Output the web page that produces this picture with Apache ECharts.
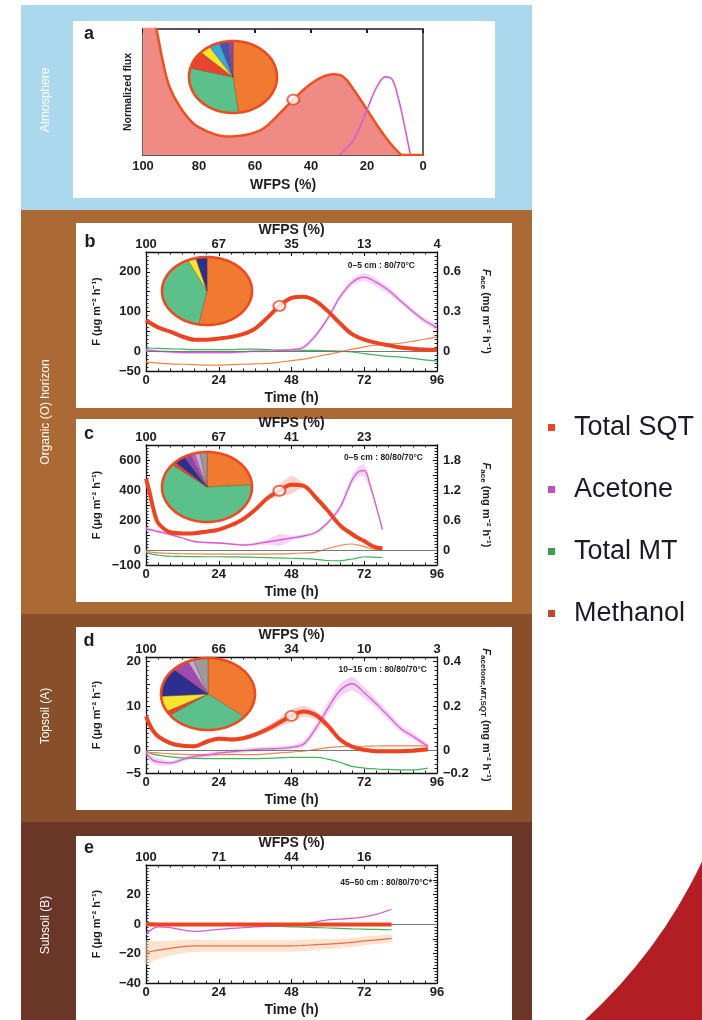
<!DOCTYPE html>
<html><head><meta charset="utf-8">
<script src="https://cdn.jsdelivr.net/npm/echarts@6/dist/echarts.min.js"></script>
<style>html,body{margin:0;padding:0;background:#fff}#c{width:702px;height:1020px}</style>
</head><body><div id="c"></div><script>
// ---------------- DATA ----------------
// Panel a: normalized flux vs WFPS (%)
const wfpsA_sqt = [100, 97.5, 95, 92.8, 90.5, 86.9, 82, 77.3, 70.2, 63, 57, 52.3, 46.3, 41.5, 36.8, 32, 28.4, 24.8, 20, 15.3, 11.7, 8.7, 7.5, 0];
const sqtA      = [1.6, 1.25, 0.98, 0.73, 0.54, 0.385, 0.25, 0.19, 0.146, 0.16, 0.21, 0.305, 0.44, 0.54, 0.61, 0.64, 0.62, 0.52, 0.36, 0.2, 0.093, 0.02, 0, 0];
const wfpsA_ace = [30, 24.8, 20, 16.5, 13.5, 11, 8.7, 6.3, 4.5];
const aceA      = [0, 0.12, 0.36, 0.54, 0.62, 0.6, 0.44, 0.2, 0];
const markerA = 12;
const xTicksA = [100, 80, 60, 40, 20, 0];

// Panel b (0-5 cm)
const tB   = [0,4,8,12,16,20,24,28,32,36,40,44,48,52,56,60,64,68,72,76,80,84,88,92,96];
const sqtB = [78,60,49,37,29,29,32,36,43,57,84,114,134,137,126,101,70,43,29,21,15,9,6,4,3];
const aceB = [0.01,0,-0.005,-0.01,-0.01,-0.01,-0.01,-0.01,-0.005,0,0,0.005,0.01,0.03,0.12,0.25,0.41,0.52,0.56,0.52,0.46,0.38,0.30,0.23,0.18];
const aceB_hw = [0.01,0.01,0.01,0.01,0.01,0.01,0.01,0.01,0.01,0.01,0.01,0.01,0.01,0.015,0.02,0.02,0.02,0.025,0.03,0.03,0.025,0.02,0.02,0.02,0.02];
const mtB  = [8,7,6,5,4,4,4,4,5,5,4,3,3,2,2,1,0,-2,-6,-10,-13,-15,-18,-22,-25];
const meoB = [-27,-30,-32,-33,-34,-35,-35,-34,-33,-32,-31,-28,-24,-20,-14,-8,-2,5,11,15,18,20,25,30,36];
const markerB = 11;
const wfpsLabelsB = ['100','67','35','13','4'];
const leftTicksB = [-50, 0, 100, 200];
const rightTicksB = [0, 0.3, 0.6];

// Panel c (0-5 cm)
const tC   = [0,1,2,3,4,6,8,12,16,20,24,28,32,36,40,44,48,52,56,60,64,68,70,72,74,76,78];
const sqtC = [475,400,310,230,180,140,118,110,112,122,136,165,205,268,345,395,435,428,350,262,165,105,80,60,34,18,11];
const sqtC_hw = [10,10,10,8,8,6,5,5,5,5,5,5,6,8,15,40,60,15,8,6,5,5,5,4,4,3,3];
const aceC = [0.43,0.41,0.40,0.38,0.37,0.34,0.31,0.24,0.17,0.15,0.14,0.12,0.10,0.12,0.16,0.20,0.24,0.28,0.35,0.55,0.85,1.40,1.56,1.59,1.28,0.86,0.41];
const aceC_hw = [0.04,0.03,0.03,0.03,0.03,0.03,0.02,0.02,0.02,0.02,0.02,0.02,0.02,0.03,0.05,0.12,0.05,0.03,0.03,0.04,0.06,0.08,0.1,0.12,0.08,0.05,0.04];
const mtC  = [-18,-22,-27,-31,-35,-39,-41,-43,-44,-45,-45,-46,-47,-49,-51,-53,-55,-57,-62,-70,-72,-60,-52,-45,-47,-49,-50];
const meoC = [-11,-13,-15,-17,-19,-21,-23,-25,-26,-27,-27,-27,-27,-27,-27,-26,-24,-20,-14,10,30,40,32,22,10,3,0];
const markerC = 15;
const wfpsLabelsC = ['100','67','41','23',''];
const leftTicksC = [-100, 0, 200, 400, 600];
const rightTicksC = [0, 0.6, 1.2, 1.8];

// Panel d (10-15 cm)
const tD   = [0,2,4,8,12,16,20,24,28,32,36,40,44,48,52,56,60,64,68,72,76,80,84,88,93];
const sqtD = [7.7,4.8,3.2,1.7,1.1,1.0,2.0,2.7,2.5,2.8,3.6,4.8,6.3,7.8,8.8,8.0,5.6,2.5,0.9,0.2,-0.1,-0.1,-0.1,0.0,0.3];
const sqtD_hw = [0.8,0.6,0.5,0.4,0.4,0.4,0.5,0.5,0.5,0.5,0.6,0.8,1.0,1.5,1.2,1.0,0.8,0.6,0.5,0.5,0.5,0.5,0.5,0.5,0.5];
const aceD = [-0.01,-0.04,-0.05,-0.055,-0.04,-0.025,-0.02,-0.01,-0.005,0,0.005,0.008,0.01,0.015,0.03,0.10,0.19,0.27,0.30,0.26,0.21,0.155,0.10,0.065,0.02];
const aceD_hw = [0.01,0.015,0.015,0.01,0.01,0.01,0.01,0.01,0.01,0.01,0.01,0.01,0.01,0.01,0.015,0.02,0.025,0.03,0.03,0.025,0.02,0.02,0.015,0.015,0.01];
const mtD  = [-0.1,-0.7,-1.0,-1.4,-1.6,-1.7,-1.8,-1.8,-1.8,-1.8,-1.8,-1.7,-1.6,-1.5,-1.5,-1.5,-1.9,-2.6,-3.5,-3.9,-4.1,-4.2,-4.3,-4.3,-3.9];
const meoD = [-0.3,-0.4,-0.5,-0.7,-0.8,-0.9,-0.9,-0.9,-0.9,-0.9,-0.9,-0.7,-0.5,-0.3,-0.1,0.3,0.7,0.9,1.0,1.0,1.05,1.1,1.1,1.1,1.1];
const markerD = 13;
const wfpsLabelsD = ['100','66','34','10','3'];
const leftTicksD = [-5, 0, 10, 20];
const rightTickValsD = [-0.1, 0, 0.2, 0.4];
const rightTickLabelsD = ['−0.2', '0', '0.2', '0.4'];

// Panel e (45-50 cm)
const tE   = [0,2,4,8,12,16,20,24,28,32,36,40,44,48,52,56,60,64,68,72,76,81];
const sqtE = [-0.2,-0.3,-0.3,-0.4,-0.4,-0.4,-0.4,-0.4,-0.4,-0.4,-0.4,-0.4,-0.4,-0.4,-0.4,-0.4,-0.4,-0.4,-0.4,-0.4,-0.4,-0.4];
const aceE = [-7,-3.5,-2,-2.5,-4,-5,-4.5,-3.6,-3,-2.5,-2,-1.6,-1.2,-0.8,-0.3,1.5,2.8,3.3,3.9,4.8,6.5,10];
const mtE  = [1.1,0.6,0.3,0,-0.3,-0.5,-0.6,-0.7,-0.9,-1.1,-1.3,-1.5,-1.7,-1.9,-2.1,-2.4,-2.7,-3,-3.3,-3.5,-3.7,-3.9];
const meoE = [-19.5,-18.5,-17.7,-16.5,-15.3,-14.8,-14.8,-14.8,-14.8,-14.8,-14.8,-14.8,-14.8,-14.8,-14.5,-14,-13.6,-13.2,-12.5,-11.5,-10.8,-9.8];
const meoE_hw = [8,7,6,5,4.5,4.2,4,4,4,4,4,4,4,4,3.8,3.6,3.4,3.2,3,3,2.8,2.5];
const wfpsLabelsE = ['100','71','44','16',''];
const leftTicksE = [-40, -20, 0, 20];

// Pie charts (composition shares, %)
const pieA = [48, 31, 8, 4, 4, 3, 2];
const pieB = [53, 40, 3, 4];
const pieC = [24, 62, 1.5, 4, 2.5, 1.5, 2, 2.5];
const pieD = [36, 29, 2, 7, 13, 6, 2, 5];

// Texts
const bandLabels = ['Atmosphere', 'Organic (O) horizon', 'Topsoil (A)', 'Subsoil (B)'];
const panelLetters = ['a', 'b', 'c', 'd', 'e'];
const annotations = ['0–5 cm : 80/70°C', '0–5 cm : 80/80/70°C', '10–15 cm : 80/80/70°C', '45–50 cm : 80/80/70°C*'];
const legendNames = ['Total SQT', 'Acetone', 'Total MT', 'Methanol'];

// ---------------- STYLE ----------------
const FONT = '"Liberation Sans", Arial, Helvetica, sans-serif';
const INK = '#1e1e1e';
const C_SQT = '#ee4321', C_ACE = '#d35fd3', C_MT = '#3fb35e', C_MEO = '#f0844c';
const PC = {orange:'#f07a30', green:'#5bc08a', red:'#e8452c', yellow:'#f6e52b', cyan:'#3ba7dc', blue:'#4455b0', navy:'#2c2f8e', purple:'#8c48a8', violet:'#a04ab0', magenta:'#c35bc5', lav:'#c6a9d8', grey:'#9b9b9b'};
const pieColA = [PC.orange, PC.green, PC.red, PC.yellow, PC.cyan, PC.blue, PC.purple];
const pieColB = [PC.orange, PC.green, PC.yellow, PC.navy];
const pieColC = [PC.orange, PC.green, PC.red, PC.navy, PC.purple, PC.magenta, PC.lav, PC.grey];
const pieColD = [PC.orange, PC.green, PC.red, PC.yellow, PC.navy, PC.violet, PC.lav, PC.grey];

const tickTS = {fontFamily: FONT, fontSize: 13, fontWeight: 'bold', color: INK};
const nameTS = {fontFamily: FONT, fontSize: 14, fontWeight: 'bold', color: INK};

function fmtNum(v){ const r = Math.round(v*1000)/1000; return r < 0 ? '−' + Math.abs(r) : String(r); }
function only(vals, labels){
  return function(v){
    for (let i = 0; i < vals.length; i++) if (Math.abs(v - vals[i]) < 1e-6) return labels ? labels[i] : fmtNum(vals[i]);
    return '';
  };
}
const pairs = (xs, ys) => xs.map((x, i) => [x, ys[i]]);

const frameLine = {show: true, onZero: false, lineStyle: {color: '#111', width: 1.3}};
const inTick = {show: true, inside: true, length: 4, lineStyle: {color: '#111'}};
const minor = n => ({show: true, splitNumber: n, length: 2.5, lineStyle: {color: '#222'}});

function xBottom(gi){
  return {type:'value', gridIndex:gi, position:'bottom', min:0, max:96, interval:24,
    axisLine: frameLine, axisTick: inTick, minorTick: minor(6), splitLine:{show:false},
    axisLabel: Object.assign({}, tickTS, {margin:3, formatter: v => String(v)}),
    name:'Time (h)', nameLocation:'middle', nameGap:20, nameTextStyle: nameTS};
}
function xTop(gi, labels){
  return {type:'value', gridIndex:gi, position:'top', min:0, max:96, interval:24,
    axisLine: frameLine, axisTick: inTick, minorTick: minor(6), splitLine:{show:false},
    axisLabel: Object.assign({}, tickTS, {margin:1, formatter: v => labels[Math.round(v/24)] || ''}),
    name:'WFPS (%)', nameLocation:'middle', nameGap:15, nameTextStyle: nameTS};
}
function yLeft(gi, min, max, interval, shown, name){
  return {type:'value', gridIndex:gi, position:'left', min, max, interval,
    axisLine: frameLine, axisTick: inTick, minorTick: minor(5), splitLine:{show:false},
    axisLabel: Object.assign({}, tickTS, {margin:5, formatter: only(shown), showMinLabel:true, showMaxLabel:true}),
    name, nameLocation:'middle', nameGap:44, nameTextStyle: Object.assign({}, nameTS, {fontSize:11})};
}
function yRight(gi, min, max, interval, vals, labels, name){
  return {type:'value', gridIndex:gi, position:'right', min, max, interval,
    axisLine: frameLine, axisTick: inTick, minorTick: minor(5), splitLine:{show:false},
    axisLabel: Object.assign({}, tickTS, {show: !!vals, margin:6, formatter: vals ? only(vals, labels) : ''}),
    name: name || '', nameLocation:'middle', nameGap:42, nameRotate:-90,
    nameTextStyle: Object.assign({}, nameTS, {fontSize:11, rich:{i:{fontStyle:'italic', fontWeight:'bold', fontSize:11, fontFamily:FONT, color:INK}, s:{fontSize:8, fontWeight:'bold', fontFamily:FONT, color:INK, padding:[6,0,0,0]}}})};
}

function line(name, xi, yi, xs, ys, color, width, z){
  return {type:'line', name, xAxisIndex:xi, yAxisIndex:yi, data: pairs(xs, ys), smooth:0.35, symbol:'none',
    lineStyle:{color, width}, itemStyle:{color}, z: z || 3, silent:true};
}
// Uncertainty band drawn as one polygon through the library's coordinate transform
function band(xi, yi, xs, ys, hw, color){
  return {type:'custom', xAxisIndex:xi, yAxisIndex:yi, silent:true, z:1, clip:true,
    data: xs.map((x, i) => [x, ys[i] - hw[i], ys[i] + hw[i]]),
    encode: {x: 0, y: [1, 2]},
    renderItem(params, api){
      if (params.dataIndex !== 0) return null;
      const up = xs.map((x, i) => api.coord([x, ys[i] + hw[i]]));
      const lo = xs.map((x, i) => api.coord([x, ys[i] - hw[i]])).reverse();
      return {type:'polygon', shape:{points: up.concat(lo), smooth: 0.2}, style:{fill: color}};
    }};
}
function marker(xi, yi, x, y){
  return {type:'scatter', xAxisIndex:xi, yAxisIndex:yi, data:[[x, y]], symbol:'circle', symbolSize:[12,10],
    itemStyle:{color:'#fff', borderColor:C_SQT, borderWidth:2}, z:8, silent:true};
}
function zeroLine(){
  return {silent:true, symbol:'none', label:{show:false}, lineStyle:{color:'#777', width:1, type:'solid'}, data:[{yAxis:0}]};
}
function pieSeries(id, values, colors, cx, cy, rx, ry){
  const total = values.reduce((a,b)=>a+b, 0);
  return {type:'custom', name:id, coordinateSystem:'none', silent:true, z:6, data: values,
    renderItem(params){
      const i = params.dataIndex;
      let start = 0; for (let k = 0; k < i; k++) start += values[k];
      const a0 = -Math.PI/2 + start/total*2*Math.PI;
      const a1 = a0 + values[i]/total*2*Math.PI;
      const n = Math.max(2, Math.ceil((a1-a0)/0.04));
      const arc = [];
      for (let j = 0; j <= n; j++){ const a = a0 + (a1-a0)*j/n; arc.push([cx + rx*Math.cos(a), cy + ry*Math.sin(a)]); }
      return {type:'group', children:[
        {type:'polygon', shape:{points:[[cx,cy]].concat(arc)}, style:{fill:colors[i], stroke:'rgba(90,50,40,0.55)', lineWidth:0.6}},
        {type:'polyline', shape:{points:arc}, style:{fill:null, stroke:'#ee4a22', lineWidth:2.6}}
      ]};
    }};
}

// ---------------- GRIDS / AXES ----------------
const grids = [
  {left:143, top:29, width:280, height:126},
  {left:146, top:252, width:291, height:119},
  {left:146, top:445, width:291, height:120},
  {left:146, top:657, width:291, height:116},
  {left:146, top:865, width:291, height:118}
];
const frameA = {show:true, onZero:false, lineStyle:{color:'#555', width:1.8}};
const xAxes = [
  {type:'value', gridIndex:0, position:'bottom', min:0, max:100, interval:20, inverse:true, axisLine:frameA,
    axisTick:{show:false}, splitLine:{show:false}, axisLabel:Object.assign({}, tickTS, {margin:5, formatter: only(xTicksA)}),
    name:'WFPS (%)', nameLocation:'middle', nameGap:23, nameTextStyle:nameTS},
  {type:'value', gridIndex:0, position:'top', min:0, max:100, interval:20, inverse:true, axisLine:frameA,
    axisTick:{show:true, inside:true, length:4, lineStyle:{color:'#222', width:2}}, splitLine:{show:false}, axisLabel:{show:false}},
  xBottom(1), xTop(1, wfpsLabelsB),
  xBottom(2), xTop(2, wfpsLabelsC),
  xBottom(3), xTop(3, wfpsLabelsD),
  xBottom(4), xTop(4, wfpsLabelsE)
];
const leftName = 'F (μg m⁻² h⁻¹)';
const yAxes = [
  {type:'value', gridIndex:0, position:'left', min:0, max:1, axisLine:frameA, axisTick:{show:false}, splitLine:{show:false},
    axisLabel:{show:false}, name:'Normalized flux', nameLocation:'middle', nameGap:9, nameTextStyle:Object.assign({}, nameTS, {fontSize:10.5})},
  {type:'value', gridIndex:0, position:'right', min:0, max:1, axisLine:frameA, axisTick:{show:false}, splitLine:{show:false}, axisLabel:{show:false}},
  yLeft(1, -50, 250, 50, leftTicksB, leftName),
  yRight(1, -0.15, 0.75, 0.15, rightTicksB, null, '{i|F}{s|ace} (mg m⁻² h⁻¹)'),
  yLeft(2, -100, 700, 100, leftTicksC, leftName),
  yRight(2, -0.3, 2.1, 0.3, rightTicksC, null, '{i|F}{s|ace} (mg m⁻² h⁻¹)'),
  yLeft(3, -5, 21, 5, leftTicksD, leftName),
  yRight(3, -0.1, 0.42, 0.1, rightTickValsD, rightTickLabelsD, '{i|F}{s|acetone,MT,SQT} (mg m⁻² h⁻¹)'),
  yLeft(4, -40, 40, 10, leftTicksE, leftName),
  yRight(4, -40, 40, 10, null, null, '')
];

// ---------------- SERIES ----------------
const series = [];
// a
series.push(Object.assign(line('Total SQT', 0, 0, wfpsA_sqt, sqtA, '#f0501e', 2.5, 3), {areaStyle:{color:'#f08a84', opacity:1}, smooth:0.4}));
series.push(line('Acetone', 0, 0, wfpsA_ace, aceA, C_ACE, 1.6, 4));
series.push(marker(0, 0, wfpsA_sqt[markerA], sqtA[markerA]));
series.push(pieSeries('pie-a', pieA, pieColA, 233, 77, 44, 36));
// b
series.push(band(2, 3, tB, aceB, aceB_hw, 'rgba(232,160,232,0.45)'));
series.push(Object.assign(line('Total MT', 2, 2, tB, mtB, C_MT, 1.2), {markLine: zeroLine()}));
series.push(line('Methanol', 2, 2, tB, meoB, C_MEO, 1.2));
series.push(line('Acetone', 2, 3, tB, aceB, C_ACE, 1.3));
series.push(line('Total SQT', 2, 2, tB, sqtB, C_SQT, 4, 5));
series.push(marker(2, 2, tB[markerB], sqtB[markerB]));
series.push(pieSeries('pie-b', pieB, pieColB, 207, 291, 45, 34));
// c
series.push(band(4, 4, tC, sqtC, sqtC_hw, 'rgba(240,130,120,0.35)'));
series.push(band(4, 5, tC, aceC, aceC_hw, 'rgba(232,160,232,0.45)'));
series.push(Object.assign(line('Total MT', 4, 4, tC, mtC, C_MT, 1.2), {markLine: zeroLine()}));
series.push(line('Methanol', 4, 4, tC, meoC, C_MEO, 1.2));
series.push(line('Acetone', 4, 5, tC, aceC, C_ACE, 1.3));
series.push(line('Total SQT', 4, 4, tC, sqtC, C_SQT, 4, 5));
series.push(marker(4, 4, tC[markerC], sqtC[markerC]));
series.push(pieSeries('pie-c', pieC, pieColC, 207, 487, 45, 35));
// d
series.push(band(6, 6, tD, sqtD, sqtD_hw, 'rgba(240,130,120,0.35)'));
series.push(band(6, 7, tD, aceD, aceD_hw, 'rgba(232,160,232,0.45)'));
series.push(Object.assign(line('Total MT', 6, 6, tD, mtD, C_MT, 1.2), {markLine: zeroLine()}));
series.push(line('Methanol', 6, 6, tD, meoD, C_MEO, 1.2));
series.push(line('Acetone', 6, 7, tD, aceD, C_ACE, 1.3));
series.push(line('Total SQT', 6, 6, tD, sqtD, C_SQT, 4, 5));
series.push(marker(6, 6, tD[markerD], sqtD[markerD]));
series.push(pieSeries('pie-d', pieD, pieColD, 208, 694, 47, 36));
// e
series.push(band(8, 8, tE, meoE, meoE_hw, 'rgba(252,205,165,0.55)'));
series.push(Object.assign(line('Total MT', 8, 8, tE, mtE, C_MT, 1.2), {markLine: zeroLine()}));
series.push(line('Methanol', 8, 8, tE, meoE, '#ee6a50', 1.2));
series.push(line('Acetone', 8, 8, tE, aceE, C_ACE, 1.3));
series.push(line('Total SQT', 8, 8, tE, sqtE, C_SQT, 4, 5));

// ---------------- DECORATION ----------------
const txt = (x, y, text, opts) => ({type:'text', x, y, z:100, silent:true,
  style: Object.assign({text, fill:INK, fontFamily:FONT, fontSize:11, fontWeight:'bold', align:'center', verticalAlign:'middle', textAlign:'center', textVerticalAlign:'middle'}, opts || {})});
const rect = (x, y, w, h, fill) => ({type:'rect', z:-10, silent:true, shape:{x, y, width:w, height:h}, style:{fill}});

const graphic = [
  rect(21, 5, 511, 205, '#acd8ee'),
  rect(21, 210, 511, 404, '#ab6a35'),
  rect(21, 614, 511, 208, '#884f2a'),
  rect(21, 822, 511, 198, '#6a3628'),
  rect(73, 21, 422, 177, '#ffffff'),
  rect(76, 223, 436, 185, '#ffffff'),
  rect(76, 419, 436, 183, '#ffffff'),
  rect(76, 627, 436, 183, '#ffffff'),
  rect(76, 836, 436, 184, '#ffffff'),
  {type:'sector', z:-10, silent:true, shape:{cx:250, cy:650, r0:499, r:900, startAngle:0, endAngle:Math.PI/2}, style:{fill:'#b21e24'}},
  Object.assign(txt(46, 100, bandLabels[0], {fill:'#ffffff', fontWeight:'normal', fontSize:12}), {rotation:Math.PI/2}),
  Object.assign(txt(46, 412, bandLabels[1], {fill:'#ffffff', fontWeight:'normal', fontSize:12}), {rotation:Math.PI/2}),
  Object.assign(txt(46, 716, bandLabels[2], {fill:'#ffffff', fontWeight:'normal', fontSize:12}), {rotation:Math.PI/2}),
  Object.assign(txt(46, 925, bandLabels[3], {fill:'#ffffff', fontWeight:'normal', fontSize:12}), {rotation:Math.PI/2}),
  txt(89, 34, panelLetters[0], {fontSize:18}),
  txt(90, 242, panelLetters[1], {fontSize:18}),
  txt(89, 434, panelLetters[2], {fontSize:18}),
  txt(89, 641, panelLetters[3], {fontSize:18}),
  txt(89, 848, panelLetters[4], {fontSize:18}),
  txt(415, 266, annotations[0], {fontSize:8.5, align:'right', textAlign:'right'}),
  txt(423, 458, annotations[1], {fontSize:8.5, align:'right', textAlign:'right'}),
  txt(427, 670, annotations[2], {fontSize:8.5, align:'right', textAlign:'right'}),
  txt(432, 883, annotations[3], {fontSize:8.5, align:'right', textAlign:'right'})
];

const legendColors = [C_SQT, '#c14fc4', '#3b9e4e', '#c7452b'];
const option = {
  animation: false,
  backgroundColor: '#ffffff',
  grid: grids,
  xAxis: xAxes,
  yAxis: yAxes,
  series,
  graphic,
  legend: {orient:'vertical', left:543, top:409, itemWidth:7, itemHeight:7, itemGap:35, icon:'rect', selectedMode:false,
    data: legendNames.map((n, i) => ({name:n, itemStyle:{color:legendColors[i]}})),
    textStyle:{fontSize:27, fontFamily:FONT, color:'#1a1a28', padding:[0,0,0,14]}}
};
const chart = echarts.init(document.getElementById('c'), null, {renderer:'canvas'});
chart.setOption(option);
</script></body></html>
